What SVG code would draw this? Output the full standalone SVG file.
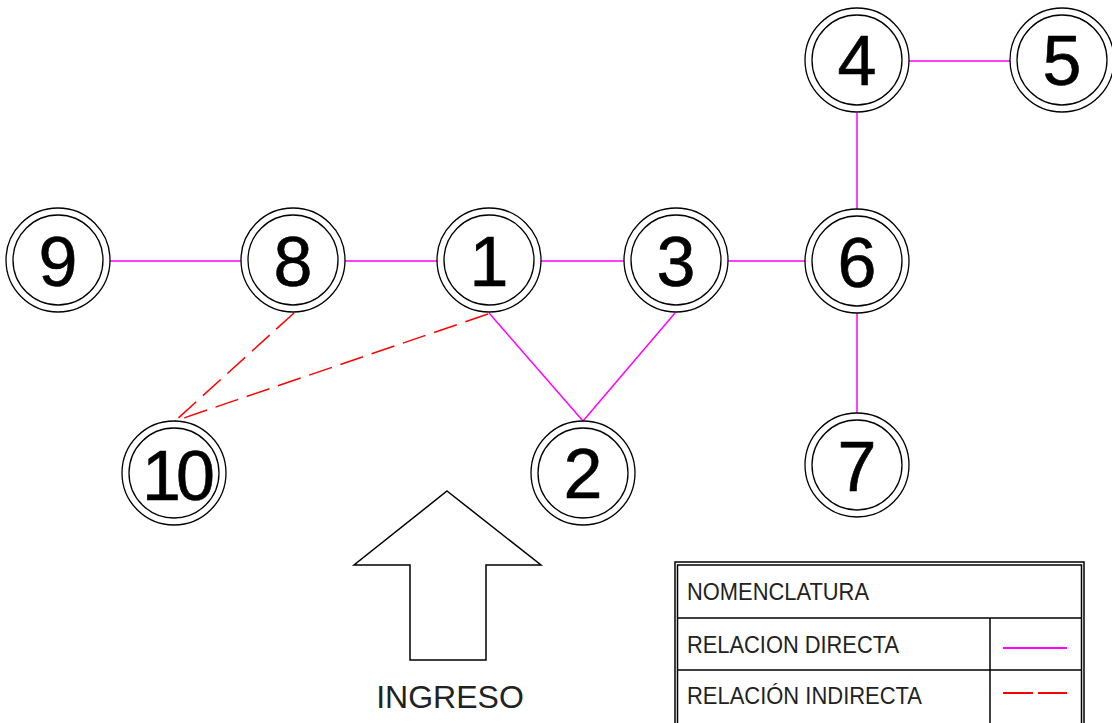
<svg xmlns="http://www.w3.org/2000/svg" width="1112" height="723" viewBox="0 0 1112 723">
<style>
.ring{fill:none;stroke:#000;stroke-width:1.3}
.num{font-family:"Liberation Sans",Arial,sans-serif;font-size:70px;fill:#000;stroke:#000;stroke-width:0.6;text-anchor:middle}
.dir{stroke:#ff00ff;stroke-width:1.5;fill:none}
.ind{stroke:#ff0000;stroke-width:1.5;fill:none;stroke-dasharray:24 9}
.lbl{font-family:"Liberation Sans",Arial,sans-serif;font-size:23px;fill:#222}
.tb{stroke:#000;stroke-width:1.5;fill:none}
</style>
<defs>
<g id="dc"><circle r="52" class="ring"/><circle r="45" class="ring"/></g>
</defs>
<rect width="1112" height="723" fill="#fff"/>
<g id="connectors">
<line class="dir" x1="110" y1="261" x2="241" y2="261"/>
<line class="dir" x1="345" y1="261" x2="437" y2="261"/>
<line class="dir" x1="541" y1="261" x2="624" y2="261"/>
<line class="dir" x1="728" y1="261" x2="805" y2="261"/>
<line class="dir" x1="909" y1="61" x2="1010" y2="61"/>
<line class="dir" x1="857" y1="113" x2="857" y2="209"/>
<line class="dir" x1="857" y1="313" x2="857" y2="413"/>
<line class="dir" x1="489" y1="313" x2="583" y2="421"/>
<line class="dir" x1="675" y1="313" x2="583" y2="421"/>
<line class="ind" x1="294" y1="313" x2="175" y2="421"/>
<line class="ind" x1="488" y1="314" x2="175" y2="421"/>
</g>
<g id="n9"><use href="#dc" x="58" y="260"/><text class="num" x="58" y="286">9</text></g>
<g id="n8"><use href="#dc" x="293" y="260"/><text class="num" x="293" y="286">8</text></g>
<g id="n1"><use href="#dc" x="489" y="260"/><text class="num" x="489" y="286">1</text></g>
<g id="n3"><use href="#dc" x="676" y="260"/><text class="num" x="676" y="286">3</text></g>
<g id="n6"><use href="#dc" x="857" y="261"/><text class="num" x="857" y="287">6</text></g>
<g id="n4"><use href="#dc" x="857" y="60"/><text class="num" x="857" y="85">4</text></g>
<g id="n5"><use href="#dc" x="1062" y="60"/><text class="num" x="1062" y="85">5</text></g>
<g id="n7"><use href="#dc" x="857" y="465"/><text class="num" x="857" y="491">7</text></g>
<g id="n10"><use href="#dc" x="174" y="473"/><text class="num" x="176" y="500" letter-spacing="-5">10</text></g>
<g id="n2"><use href="#dc" x="583" y="473"/><text class="num" x="583" y="498">2</text></g>
<g id="ingreso">
<polygon points="447,491 541,565 486,565 486,660 410,660 410,565 354,565" fill="none" stroke="#000" stroke-width="1.5"/>
<text x="450" y="708" font-family="Liberation Sans, Arial, sans-serif" font-size="32" fill="#222" text-anchor="middle">INGRESO</text>
</g>
<g id="legend">
<rect class="tb" x="675" y="562" width="409" height="170"/>
<rect class="tb" x="677.5" y="565" width="404" height="170"/>
<line class="tb" x1="677" y1="618" x2="1082" y2="618"/>
<line class="tb" x1="677" y1="670" x2="1082" y2="670"/>
<line class="tb" x1="990" y1="618" x2="990" y2="723"/>
<text class="lbl" x="687" y="600" textLength="182" lengthAdjust="spacingAndGlyphs">NOMENCLATURA</text>
<text class="lbl" x="687" y="653" textLength="212" lengthAdjust="spacingAndGlyphs">RELACION DIRECTA</text>
<text class="lbl" x="687" y="704" textLength="235" lengthAdjust="spacingAndGlyphs">RELACIÓN INDIRECTA</text>
<line x1="1003" y1="648" x2="1067" y2="648" stroke="#ff00ff" stroke-width="2"/>
<line x1="1003" y1="693" x2="1033" y2="693" stroke="#ff0000" stroke-width="2"/>
<line x1="1038" y1="693" x2="1067" y2="693" stroke="#ff0000" stroke-width="2"/>
</g>
</svg>
